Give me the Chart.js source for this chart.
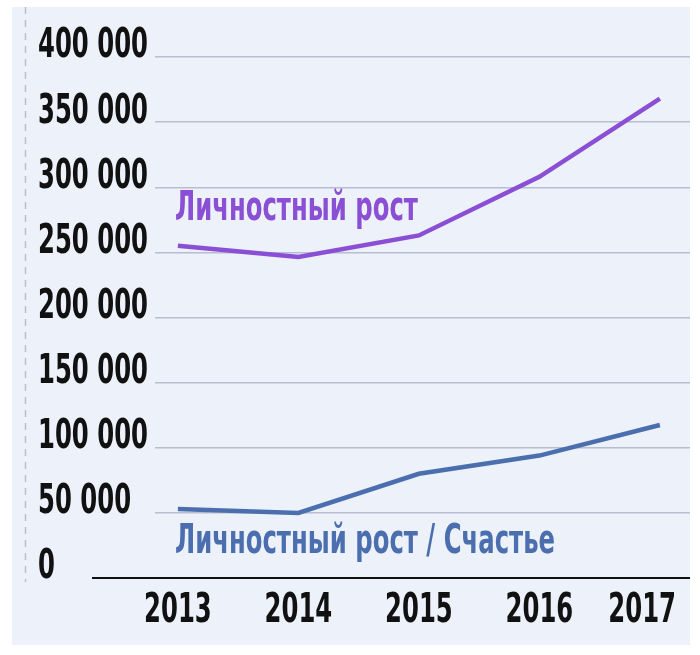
<!DOCTYPE html>
<html><head><meta charset="utf-8">
<script src="https://cdn.jsdelivr.net/npm/chart.js@4"></script>
<style>html,body{margin:0;padding:0;background:#fff}#c{display:block}</style>
</head><body>
<div style="width:700px;height:655px"><canvas id="c"></canvas></div>
<script>
const years = [2013, 2014, 2015, 2016, 2017];
const growth = [255000, 246500, 263000, 308000, 368000];
const growthHappiness = [53000, 50000, 80000, 94000, 117500];
const yTicks = [0, 50000, 100000, 150000, 200000, 250000, 300000, 350000, 400000];
const yTickLabels = ['0', '50 000', '100 000', '150 000', '200 000', '250 000', '300 000', '350 000', '400 000'];
const label1 = 'Личностный рост';
const label2 = 'Личностный рост / Счастье';
const PURPLE = '#8a4fd4', BLUE = '#4b6fae';
const FONT = 'bold 40px "DejaVu Sans Condensed", "DejaVu Sans"';
function txt(ctx, s, x, y, color, sx) {
  ctx.save(); ctx.translate(x, y); ctx.scale(sx, 1);
  ctx.font = FONT; ctx.fillStyle = color; ctx.textBaseline = 'middle'; ctx.textAlign = 'left';
  ctx.fillText(s, 0, 0); ctx.restore();
}
const deco = {
  id: 'deco',
  beforeDraw(chart) {
    const ctx = chart.ctx;
    ctx.save();
    ctx.fillStyle = '#edf1fa'; ctx.fillRect(12, 7, 678, 638);
    ctx.strokeStyle = '#b9bfcc'; ctx.lineWidth = 1.5; ctx.setLineDash([7, 6]);
    ctx.beginPath(); ctx.moveTo(25.5, 7); ctx.lineTo(25.5, 582); ctx.stroke();
    ctx.restore();
  },
  afterDatasetsDraw(chart) {
    const ctx = chart.ctx, y = chart.scales.y, x = chart.scales.x;
    ctx.save();
    ctx.font = FONT;
    const sx = 110 / ctx.measureText('400 000').width;
    ctx.strokeStyle = '#111'; ctx.lineWidth = 2; ctx.setLineDash([]);
    ctx.beginPath(); ctx.moveTo(92, y.getPixelForValue(0)); ctx.lineTo(690, y.getPixelForValue(0)); ctx.stroke();
    yTicks.forEach((v, i) => txt(ctx, yTickLabels[i], 38, y.getPixelForValue(v) - 10, '#111', sx));
    years.forEach(yr => {
      ctx.save(); ctx.font = FONT; const w = ctx.measureText(String(yr)).width * sx; ctx.restore();
      const left = Math.min(x.getPixelForValue(yr) - w / 2, 676 - w);
      txt(ctx, String(yr), left, 612, '#111', sx);
    });
    txt(ctx, label1, 175, 210, PURPLE, sx);
    txt(ctx, label2, 175, 543, BLUE, sx);
    ctx.restore();
  }
};
new Chart(document.getElementById('c'), {
  type: 'line',
  data: { datasets: [
    { data: years.map((yr, i) => ({ x: yr, y: growth[i] })), borderColor: PURPLE, borderWidth: 4.5, pointRadius: 0, tension: 0 },
    { data: years.map((yr, i) => ({ x: yr, y: growthHappiness[i] })), borderColor: BLUE, borderWidth: 4.5, pointRadius: 0, tension: 0 }
  ]},
  options: {
    responsive: true, maintainAspectRatio: false, animation: false,
    layout: { padding: { left: 155, right: 10, top: 57, bottom: 77 } },
    plugins: { legend: { display: false }, tooltip: { enabled: false } },
    scales: {
      x: { type: 'linear', min: 2012.81, max: 2017.25, display: false },
      y: { min: 0, max: 400000, afterBuildTicks: s => { s.ticks = yTicks.map(v => ({ value: v })); },
        ticks: { display: false }, border: { display: false },
        grid: { color: '#b8bdd0', lineWidth: 1.5, drawTicks: false } }
    }
  },
  plugins: [deco]
});
</script></body></html>
